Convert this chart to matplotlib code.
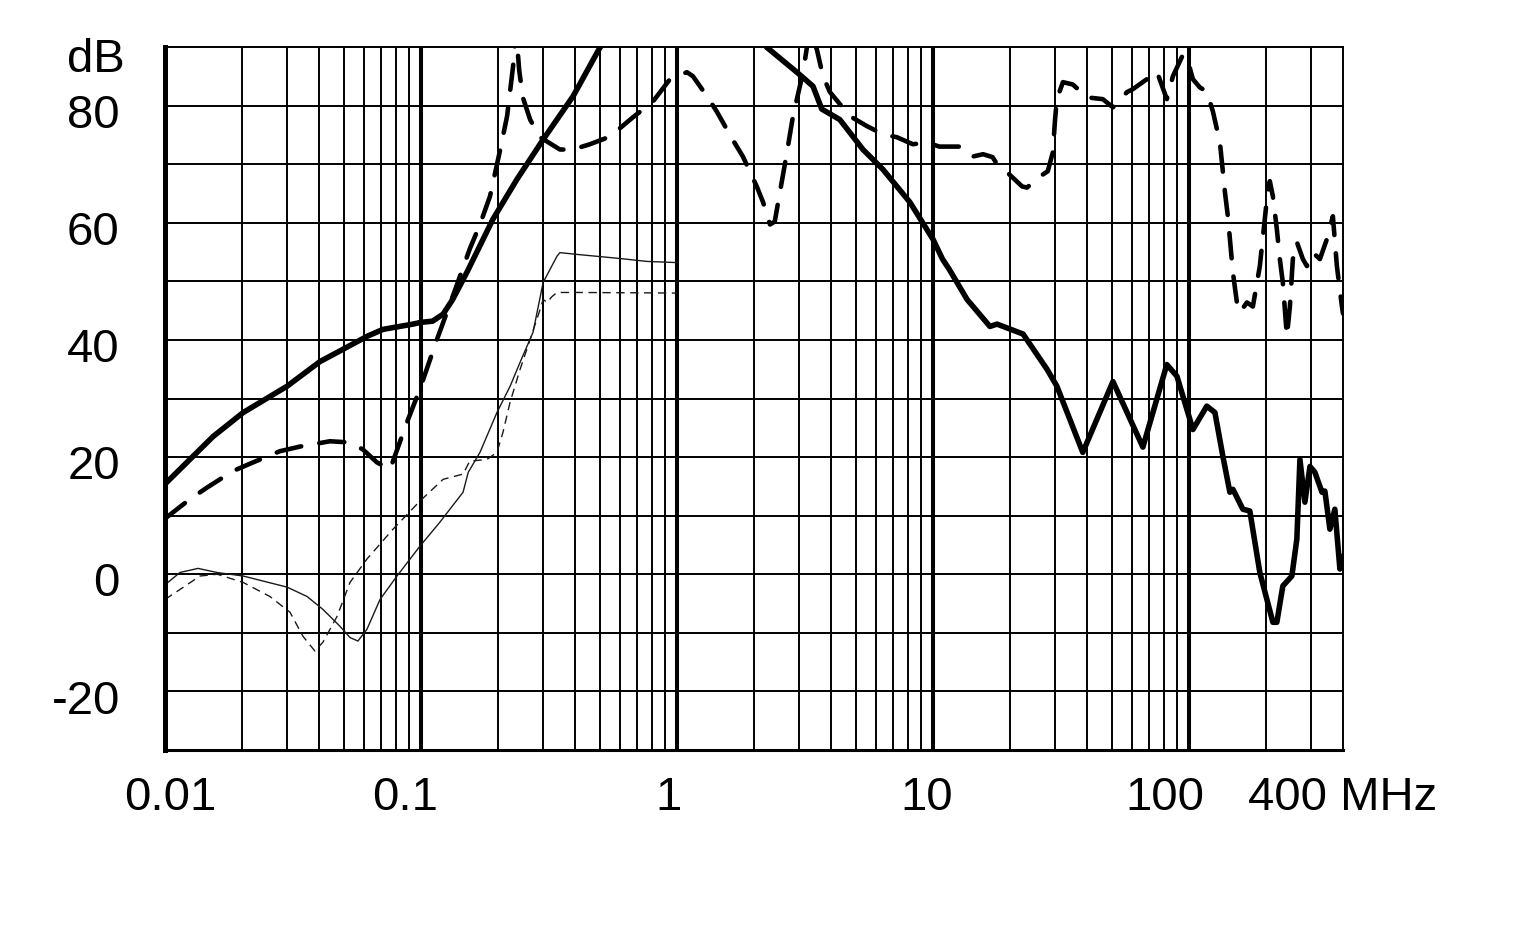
#!/usr/bin/env python3
"""
Insertion loss chart of an EMI filter, 0.01 - 400 MHz.
"""

import numpy as np
import matplotlib
matplotlib.use('Agg')  # no display
import matplotlib.pyplot as plt

plt.rcParams['font.family'] = ['Liberation Sans', 'DejaVu Sans']

# Thick solid curve (MHz, dB)
solid_f = [0.01, 0.0154, 0.0202, 0.030, 0.0403, 0.0496, 0.0615, 0.0711, 0.093, 0.1,
           0.111, 0.122, 0.133, 0.151, 0.191, 0.237, 0.300, 0.393, 0.5, 0.7,
           1.0, 1.6, 2.25, 2.94, 3.40, 3.68, 4.33, 5.33, 6.38, 8.13,
           10.0, 10.9, 11.6, 13.6, 16.7, 17.8, 22.5, 27.9, 30.5, 38.5,
           50.5, 66.1, 82.0, 89.8, 103.7, 117.5, 126.4, 135.8, 144.6, 148.6,
           162.5, 173.0, 189.3, 212.9, 220.6, 232.8, 252.5, 264.1, 271.5, 283.9,
           297.2, 310.6, 331.1, 339.8, 355.5, 371.7, 389.0, 400.0]
solid_db = [15.4, 23.5, 27.6, 32.1, 36.3, 38.4, 40.6, 41.8, 42.7, 43.0,
            43.2, 44.4, 46.9, 51.5, 60.6, 67.4, 74.2, 81.6, 89.9, 97.0,
            100.0, 97.0, 89.9, 85.7, 83.3, 79.4, 77.6, 72.5, 69.1, 63.5,
            57.2, 53.8, 52.0, 46.9, 42.3, 42.7, 41.0, 35.0, 32.1, 20.8,
            32.9, 21.7, 35.8, 33.8, 24.7, 28.7, 27.6, 20.1, 14.0, 14.5,
            11.1, 10.8, 0.3, -8.2, -8.2, -2.0, -0.3, 6.0, 19.6, 12.3,
            18.4, 17.4, 14.0, 14.2, 7.7, 11.1, 0.9, 3.1]

# Thick dashed curve
dash_f = [0.01, 0.0125, 0.0146, 0.0184, 0.0221, 0.0281, 0.0337, 0.0441, 0.0528, 0.0593,
          0.0673, 0.0757, 0.0881, 0.099, 0.1155, 0.133, 0.155, 0.170, 0.186, 0.204,
          0.217, 0.229, 0.235, 0.242, 0.250, 0.267, 0.292, 0.349, 0.392, 0.457,
          0.547, 0.673, 0.806, 0.939, 1.094, 1.155, 1.31, 1.43, 1.65, 1.81,
          2.05, 2.17, 2.31, 2.41, 2.69, 2.84, 3.11, 3.30, 3.52, 3.72,
          3.96, 4.74, 5.52, 6.38, 7.23, 8.35, 9.48, 10.6, 12.75, 14.3,
          15.7, 17.1, 17.8, 19.5, 22.3, 23.3, 26.2, 28.1, 29.4, 30.0,
          30.5, 32.2, 35.2, 40.0, 46.1, 50.5, 57.3, 60.4, 68.5, 75.0,
          82.0, 86.6, 94.8, 98.2, 103.7, 110.4, 117.5, 124.1, 132.2, 138.3,
          142.0, 148.6, 154.0, 158.2, 168.6, 177.8, 189.3, 201.7, 207.1, 212.9,
          220.6, 226.6, 232.8, 241.5, 248.1, 254.8, 264.1, 278.8, 289.1, 305.1,
          325.0, 346.0, 365.2, 378.6, 396.2, 400.0]
dash_db = [9.5, 12.8, 14.8, 17.6, 19.1, 21.0, 21.8, 22.7, 22.5, 21.3,
           19.1, 17.9, 25.9, 31.6, 40.1, 47.4, 55.5, 59.7, 64.5, 72.5,
           78.2, 86.7, 93.0, 86.0, 81.4, 77.6, 74.6, 72.5, 72.5, 73.4,
           74.7, 78.0, 80.7, 84.5, 85.7, 85.0, 81.6, 79.0, 74.2, 71.3,
           66.2, 63.5, 59.7, 60.2, 72.0, 78.2, 85.7, 93.0, 89.6, 85.0,
           82.3, 78.2, 76.5, 75.1, 74.6, 73.4, 73.7, 73.0, 73.0, 71.3,
           71.7, 71.2, 70.0, 68.6, 66.2, 66.0, 67.9, 68.8, 72.0, 77.6,
           81.1, 84.0, 83.6, 81.4, 81.1, 79.7, 82.3, 82.8, 84.5, 85.8,
           81.1, 85.0, 88.7, 88.2, 84.5, 83.1, 82.4, 79.0, 73.7, 65.2,
           61.1, 51.5, 46.4, 44.7, 46.4, 45.7, 52.6, 64.0, 67.1, 64.5,
           58.9, 53.8, 49.8, 40.6, 45.7, 53.8, 56.7, 53.8, 52.6, 54.9,
           53.8, 57.2, 61.1, 52.6, 45.7, 44.5]

# Thin solid curve
thin_f = [0.01, 0.01144, 0.01346, 0.01596, 0.0202, 0.0300, 0.0359, 0.0414, 0.0483, 0.0528,
          0.0567, 0.0615, 0.0692, 0.0806, 0.0991, 0.1186, 0.146, 0.153, 0.170, 0.198,
          0.223, 0.244, 0.274, 0.300, 0.340, 0.349, 0.406, 0.598, 0.764, 1.0]
thin_db = [-1.8, 0.3, 1.0, 0.3, -0.3, -2.2, -3.8, -6.0, -8.9, -10.8,
           -11.4, -9.4, -4.3, -0.3, 4.8, 8.9, 14.0, 17.4, 20.8, 27.6,
           32.1, 36.2, 41.3, 49.8, 54.3, 54.9, 54.6, 53.9, 53.4, 53.2]

# Thin dashed curve
thdash_f = [0.01, 0.01144, 0.0137, 0.0160, 0.0202, 0.0257, 0.0308, 0.0346, 0.0385, 0.0414,
            0.0470, 0.0528, 0.0615, 0.0778, 0.0991, 0.122, 0.146, 0.155, 0.181, 0.198,
            0.209, 0.223, 0.244, 0.267, 0.292, 0.300, 0.311, 0.325, 0.340, 0.406, 1.0]
thdash_db = [-4.3, -2.6, -0.3, 0.0, -1.4, -3.8, -6.5, -10.6, -13.1, -11.6,
             -7.2, -1.4, 2.6, 7.7, 12.5, 16.2, 17.1, 19.3, 19.6, 20.8,
             24.2, 29.4, 35.0, 40.1, 45.2, 46.9, 46.4, 47.4, 48.1, 48.1, 48.0]

# Axis labels
x_ticks = [0.01, 0.1, 1, 10, 100, 400]
x_labels = ['0.01', '0.1', '1', '10', '100', '400 MHz']
y_ticks = [-20, 0, 20, 40, 60, 80]
decades = [0.01, 0.1, 1, 10, 100]


def main():
    fig = plt.figure(figsize=(15.14, 9.30), dpi=100)
    fig.patch.set_facecolor('white')
    ax = fig.add_axes([165 / 1514, 180 / 930, 1178 / 1514, 703 / 930])

    ax.set_xscale('log')
    ax.set_xlim(0.01, 400)
    ax.set_ylim(-30, 90)

    # grid: thin lines at 2..9 of every decade, thick lines at decades
    for d in decades:
        for k in range(2, 10):
            if d * k < 400:
                ax.axvline(d * k, color='black', lw=1.4, zorder=1)
        if d > 0.01:
            ax.axvline(d, color='black', lw=2.9, zorder=1)
    for y in range(-20, 90, 10):
        ax.axhline(y, color='black', lw=1.4, zorder=1)

    # curves
    ax.plot(thin_f, thin_db, color='#1a1a1a', lw=1.0, zorder=3)
    ax.plot(thdash_f, thdash_db, color='#1a1a1a', lw=1.0, dashes=(6, 4), zorder=3)
    ax.plot(dash_f, dash_db, color='black', lw=3.3, dashes=(5.5, 4.0),
            dash_capstyle='round', solid_joinstyle='round', zorder=4)
    ax.plot(solid_f, solid_db, color='black', lw=4.0,
            solid_joinstyle='round', solid_capstyle='round', zorder=5)

    # frame
    ax.spines['left'].set_linewidth(3.6)
    ax.spines['bottom'].set_linewidth(2.2)
    ax.spines['top'].set_linewidth(1.4)
    ax.spines['right'].set_linewidth(1.4)
    for s in ax.spines.values():
        s.set_zorder(6)

    ax.set_xticks([])
    ax.set_yticks([])
    ax.minorticks_off()

    # tick labels as text, shifted like the original print
    x_shift = [5, -16, -8, -6, -24, 0]
    for x, lab, dx in zip(x_ticks, x_labels, x_shift):
        ax.annotate(lab, xy=(x, 0), xycoords=('data', 'axes fraction'),
                    xytext=(dx * 0.72, -43), textcoords='offset points',
                    ha='center', va='baseline', fontsize=34, annotation_clip=False)
    for y in y_ticks:
        ax.annotate(str(y), xy=(0, y), xycoords=('axes fraction', 'data'),
                    xytext=(-32.5, -16), textcoords='offset points',
                    ha='right', va='baseline', fontsize=34, annotation_clip=False)
    ax.annotate('dB', xy=(0, 90), xycoords=('axes fraction', 'data'),
                xytext=(-29, -18), textcoords='offset points',
                ha='right', va='baseline', fontsize=34, annotation_clip=False)

    fig.savefig('out.png', dpi=100, facecolor='white')
    plt.close(fig)


if __name__ == '__main__':
    main()
